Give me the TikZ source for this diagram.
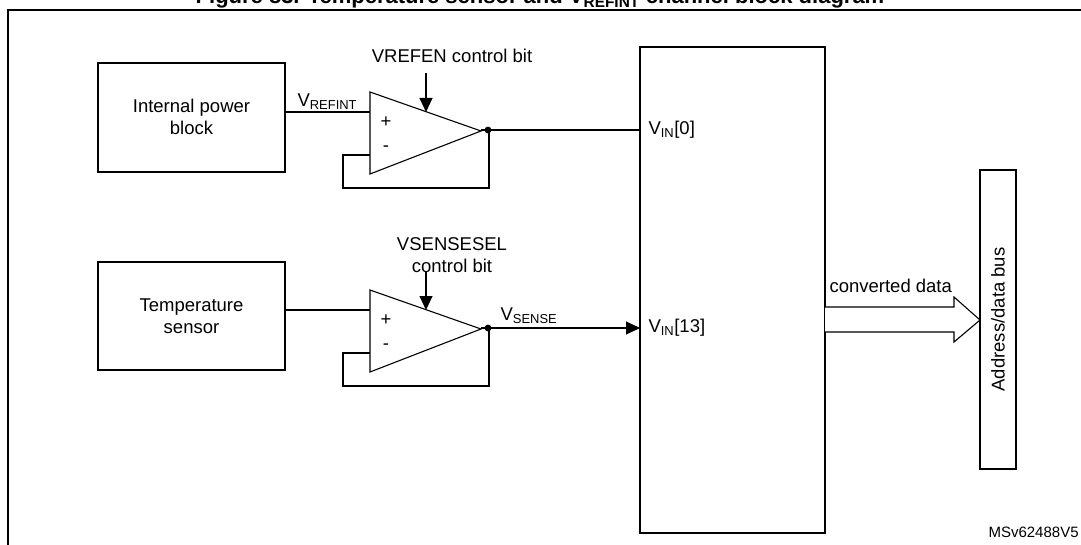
\documentclass[tikz,border=0pt]{standalone}
\usepackage{fontspec}
\setmainfont{Liberation Sans}
\usetikzlibrary{arrows.meta}
\begin{document}
\begin{tikzpicture}[x=1pt,y=-1pt,line width=1.1pt,
  lbl/.style={font=\fontsize{18.5}{22}\selectfont,inner sep=0pt},
  blk/.style={draw,line width=1.1pt},
  tip/.style={-{Triangle[length=14pt,width=13pt]}}]
\useasboundingbox (0,0) rectangle (1081,545);
\begin{scope}
\clip (0,0) rectangle (1081,545);
\node[lbl,font=\bfseries\fontsize{22}{26}\selectfont,anchor=base] (title) at (540,4) {Figure 83. Temperature sensor and V\textsubscript{REFINT} channel block diagram};
\draw[line width=2pt] (8,546) -- (8,10) -- (1082,10);
% boxes
\draw[blk] (98,63) rectangle (285,172);
\node[lbl,align=center] (ipb) at (191.5,117) {Internal power\\block};
\draw[blk] (98,262) rectangle (285,370);
\node[lbl,align=center] (ts) at (191.5,316) {Temperature\\sensor};
\draw[blk] (640,47) rectangle (825,533);
\draw[blk] (980,170) rectangle (1016,469);
\node[lbl,rotate=90] (bus) at (998,319.5) {Address/data bus};
% opamps
\foreach \dy/\nm in {0/a,198/b}{
  \begin{scope}[yshift=-\dy]
  \draw[blk] (370,92) -- (481,131) -- (370,174) -- cycle;
  \node[lbl] at (386,122) {+};
  \node[lbl] at (386,149) {-};
  \fill (488,130) circle (3.4);
  \draw (481,130) -- (488,130);
  \draw (370,155) -- (343,155) -- (343,188) -- (489,188) -- (489,130);
  \draw (285,112) -- (370,112);
  \end{scope}
}
\node[lbl,anchor=base west] (vrefint) at (297,107) {V\textsubscript{REFINT}};
\node[lbl,anchor=base] (vrefen) at (452,63) {VREFEN control bit};
\draw[tip] (426,73) -- (426,112);
\node[lbl,align=center] (vss) at (452,255) {VSENSESEL\\control bit};
\draw[tip] (426,272) -- (426,310);
\draw (488,130) -- (640,130);
\draw[tip] (488,328) -- (640,328);
\node[lbl,anchor=base west] (vsense) at (500,320) {V\textsubscript{SENSE}};
\node[lbl,anchor=west] (vin0) at (648,130) {V\textsubscript{IN}[0]};
\node[lbl,anchor=west] (vin13) at (648,328) {V\textsubscript{IN}[13]};
% hollow arrow
\draw[blk,fill=white] (825,307) -- (954,307) -- (954,297) -- (980,320) -- (954,342) -- (954,332) -- (825,332);
\node[lbl,anchor=base west] (cd) at (829,292) {converted data};
\node[lbl,font=\fontsize{15}{18}\selectfont,anchor=base west] (ms) at (988,537) {MSv62488V5};
\end{scope}
\end{tikzpicture}
\end{document}
